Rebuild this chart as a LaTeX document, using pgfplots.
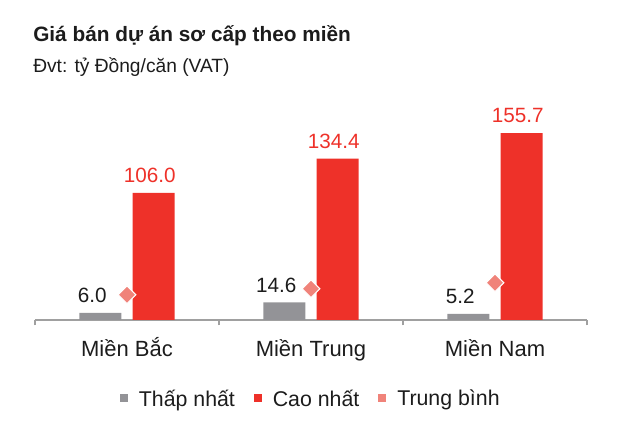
\documentclass[border=0pt]{standalone}
\usepackage{pgfplots}
\pgfplotsset{compat=1.18}
\usepackage{fontspec}
\setmainfont{Liberation Sans}
\definecolor{cgray}{HTML}{939397}
\definecolor{cred}{HTML}{EE3129}
\definecolor{cpink}{HTML}{F0837A}
\definecolor{ctext}{HTML}{1C1C1C}
\definecolor{caxis}{HTML}{A0A0A0}
\begin{document}
\begin{tikzpicture}[x=0.75pt,y=0.75pt]
\useasboundingbox (0,0) rectangle (640,435);
\node[anchor=base west, inner sep=0, font=\bfseries\fontsize{15.6}{18}\selectfont, text=ctext] at (33,393) {Giá bán dự án sơ cấp theo miền};
\node[anchor=base west, inner sep=0, font=\fontsize{14.4}{16}\selectfont, text=ctext] at (33,362) {Đvt: tỷ Đồng/căn (VAT)};
\begin{axis}[at={(26.25pt,86.25pt)}, anchor=south west, scale only axis,
  width=414pt, height=150pt,
  xmin=-0.5, xmax=2.5, ymin=0, ymax=166.67,
  clip=false,
  axis y line=none, axis x line*=bottom,
  x axis line style={-, draw=caxis, line width=0.8pt},
  xtick={0,1,2}, xticklabels={Miền Bắc, Miền Trung, Miền Nam},
  major tick length=0pt,
  minor xtick={-0.5,0.5,1.5,2.5}, minor tick length=4pt, tick align=outside,
  minor tick style={draw=caxis, line width=0.8pt},
  xticklabel style={font=\fontsize{16.5}{19}\selectfont, text=ctext, anchor=base, yshift=-27.75pt},
  point meta=explicit symbolic,
  legend style={at={(0.5,-0.395)}, anchor=center, draw=none, fill=none,
    legend columns=3, font=\fontsize{16}{19}\selectfont, text=ctext,
    /tikz/every even column/.append style={column sep=12pt}},
]
\addplot[forget plot, ybar, bar width=31.5pt, bar shift=-20pt, fill=cgray, draw=none,
  nodes near coords, nodes near coords style={font=\fontsize{15.5}{18}\selectfont, text=ctext, anchor=south, xshift=-26pt, yshift=4pt}]
  coordinates {(0,6.0) [6.0] (1,14.6) [14.6] (2,5.2) [5.2]};
\addplot[forget plot, ybar, bar width=31.5pt, bar shift=20pt, fill=cred, draw=none,
  nodes near coords, nodes near coords style={font=\fontsize{15.5}{18}\selectfont, text=cred, anchor=south, xshift=17pt, yshift=4pt}]
  coordinates {(0,106.0) [106.0] (1,134.4) [134.4] (2,155.7) [155.7]};
\addplot[forget plot, only marks, mark=square*, mark size=4.7pt, mark options={fill=cpink, draw=white, line width=0.8pt, rotate=45}]
  coordinates {(0,21) (1,26) (2,31)};
\addlegendimage{legend image code/.code={\fill[cgray] (0pt,-1.6pt) rectangle (5.3pt,3.6pt); \path (12pt,0pt);}}
\addlegendentry{Thấp nhất}
\addlegendimage{legend image code/.code={\fill[cred] (0pt,-1.6pt) rectangle (5.3pt,3.6pt); \path (12pt,0pt);}}
\addlegendentry{Cao nhất}
\addlegendimage{legend image code/.code={\fill[cpink] (0pt,-1.6pt) rectangle (5.3pt,3.6pt); \path (12pt,0pt);}}
\addlegendentry{Trung bình}
\end{axis}
\end{tikzpicture}
\end{document}
